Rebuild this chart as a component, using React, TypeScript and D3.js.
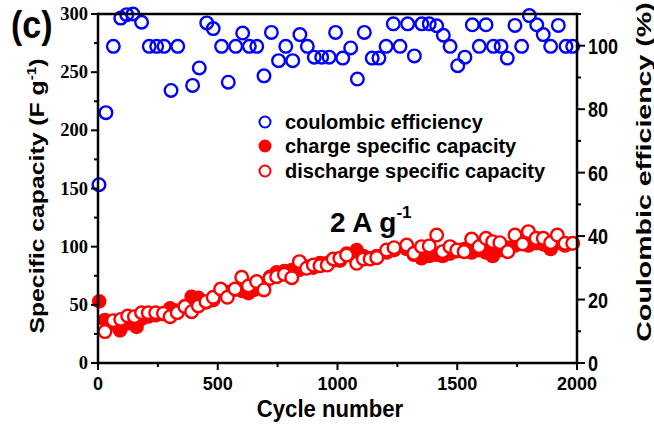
import React from "react";
import * as d3 from "d3";

const effCycles = [4, 33, 64, 95, 120, 146, 182, 214, 245, 276, 305, 333, 395, 423, 454, 481, 516, 544, 575, 604, 632, 663, 693, 724, 754, 784, 813, 843, 874, 903, 934, 965, 992, 1022, 1055, 1083, 1112, 1145, 1173, 1203, 1233, 1261, 1293, 1321, 1352, 1383, 1414, 1442, 1470, 1502, 1532, 1563, 1592, 1620, 1651, 1683, 1709, 1741, 1769, 1801, 1832, 1859, 1890, 1922, 1954, 1982];
const effValues = [56.2, 78.9, 99.8, 108.7, 109.8, 110, 107.4, 99.8, 99.8, 99.8, 85.9, 99.8, 87.5, 93, 107.2, 105.4, 99.8, 88.5, 99.8, 104, 99.8, 99.8, 90.5, 104.2, 95.3, 99.8, 95.3, 103.5, 99.8, 96.4, 96.4, 96.4, 104.2, 96.1, 99.3, 89.5, 104.2, 96.1, 96.1, 99.8, 106.9, 99.8, 106.9, 96.8, 106.9, 106.9, 106.3, 103.3, 99.8, 93.7, 96.4, 106.6, 99.8, 106.6, 99.8, 99.8, 96.1, 106.4, 99.8, 109.5, 106.6, 103.5, 99.8, 106.4, 99.8, 99.8];

const chargeCycles = [5, 29, 60, 92, 124, 161, 182, 210, 241, 273, 301, 331, 363, 391, 419, 451, 481, 512, 540, 572, 600, 628, 655, 693, 718, 746, 778, 809, 841, 871, 899, 927, 957, 982, 1010, 1038, 1080, 1108, 1136, 1164, 1205, 1236, 1289, 1319, 1351, 1383, 1414, 1439, 1470, 1498, 1529, 1560, 1591, 1620, 1648, 1678, 1711, 1741, 1773, 1797, 1829, 1859, 1890, 1918, 1950, 1982];
const chargeValues = [53, 37, 34, 28, 34, 31, 38, 40, 41, 42, 47, 45, 49, 57, 56, 52, 54, 60, 61, 63, 62, 60, 63, 68, 74, 78, 79, 80, 80, 83, 82, 86, 86, 88, 88, 94, 97, 92, 90, 92, 95, 97, 98, 93, 90, 92, 93, 92, 94, 96, 98, 95, 97, 95, 92, 97, 99, 101, 104, 101, 103, 102, 98, 103, 101, 103];

const dischargeCycles = [29, 64, 95, 124, 152, 182, 210, 241, 273, 301, 331, 363, 391, 419, 451, 481, 512, 540, 572, 600, 628, 662, 693, 718, 746, 778, 809, 841, 871, 899, 927, 957, 982, 1010, 1038, 1080, 1108, 1136, 1164, 1205, 1236, 1289, 1319, 1351, 1383, 1414, 1439, 1470, 1498, 1529, 1560, 1591, 1620, 1648, 1678, 1711, 1741, 1773, 1797, 1829, 1859, 1890, 1918, 1950, 1982];
const dischargeValues = [27, 36.4, 37.5, 40.4, 39.8, 43.2, 43.2, 43.2, 42.7, 39.8, 43.2, 48.4, 44.1, 49, 52.7, 56.5, 63.6, 56.5, 63.6, 73.7, 66.2, 70, 62.8, 72.8, 74.2, 76.2, 73.3, 87.1, 81.4, 84.2, 83.6, 84.2, 89.4, 90, 92.8, 85.7, 89.4, 89.4, 90.5, 97.1, 99.1, 101.4, 94.3, 100, 100.6, 110, 95.7, 100, 97.1, 95.7, 106.6, 100, 107.2, 104.3, 103.4, 95.7, 110, 102.3, 112.9, 107.2, 107.2, 103.4, 110, 102.9, 102.9];

const xTicks = [0, 500, 1000, 1500, 2000];
const xMinorTicks = [250, 750, 1250, 1750];
const leftTicks = [0, 50, 100, 150, 200, 250, 300];
const leftMinorTicks = [25, 75, 125, 175, 225, 275];
const rightTicks = [0, 20, 40, 60, 80, 100];
const rightMinorTicks = [10, 30, 50, 70, 90, 110];

const legendLabels = ["coulombic efficiency", "charge specific capacity", "discharge specific capacity"];

const SANS = "'Liberation Sans', Arial, sans-serif";
const SERIF = "'Liberation Serif', 'Times New Roman', serif";

export default function App() {
  const L = 98, R = 577, T = 14, B = 363;
  const x = d3.scaleLinear().domain([0, 2000]).range([L, R]);
  const yL = d3.scaleLinear().domain([0, 300]).range([B, T]);
  const yR = d3.scaleLinear().domain([0, 110]).range([B, T]);
  const r = 6.3;
  const sw = 2.4;

  return (
    <svg width={654} height={430} style={{ position: "absolute", left: 0, top: 0, background: "#fff" }}>
      <rect x={0} y={0} width={654} height={430} fill="#fff" />
      {chargeCycles.map((c, i) => (
        <circle key={"c" + i} cx={x(c)} cy={yL(chargeValues[i])} r={r + 1} fill="#ff0000" stroke="none" />
      ))}
      {dischargeCycles.map((c, i) => (
        <circle key={"d" + i} cx={x(c)} cy={yL(dischargeValues[i])} r={r} fill="#fff" stroke="#ff0000" strokeWidth={sw} />
      ))}
      {effCycles.map((c, i) => (
        <circle key={"e" + i} cx={x(c)} cy={yR(effValues[i])} r={r} fill="none" stroke="#0000ff" strokeWidth={sw} />
      ))}

      <g stroke="#000" strokeWidth={2.5} fill="none">
        <line x1={L} x2={R} y1={B} y2={B} />
        <line x1={L} x2={R} y1={T} y2={T} />
        <line x1={L} x2={L} y1={T - 1.2} y2={B + 1.2} />
        <line x1={R} x2={R} y1={T - 1.2} y2={B + 1.2} />
      </g>
      <g stroke="#000" strokeWidth={2}>
        {xTicks.map((t) => <line key={"xt" + t} x1={x(t)} x2={x(t)} y1={B} y2={B + 7} />)}
        {xMinorTicks.map((t) => <line key={"xm" + t} x1={x(t)} x2={x(t)} y1={B} y2={B + 4} />)}
        {leftTicks.map((t) => <line key={"lt" + t} x1={L - 7} x2={L} y1={yL(t)} y2={yL(t)} />)}
        {leftMinorTicks.map((t) => <line key={"lm" + t} x1={L - 4} x2={L} y1={yL(t)} y2={yL(t)} />)}
        {rightTicks.map((t) => <line key={"rt" + t} x1={R} x2={R + 8} y1={yR(t)} y2={yR(t)} />)}
        {rightMinorTicks.map((t) => <line key={"rm" + t} x1={R} x2={R + 4} y1={yR(t)} y2={yR(t)} />)}
      </g>

      <g fontFamily={SANS} fontWeight="bold" fontSize={18} fill="#000">
        {xTicks.map((t) => (
          <text key={"xl" + t} x={x(t)} y={390} textAnchor="middle">{t}</text>
        ))}
        {rightTicks.map((t) => (
          <text key={"rl" + t} transform={`translate(${R + 11},${yR(t) + 8}) scale(1,1.25)`} textAnchor="start">{t}</text>
        ))}
      </g>
      <g fontFamily={SERIF} fontWeight="bold" fontSize={18.5} fill="#000">
        {leftTicks.map((t) => (
          <text key={"ll" + t} x={88} y={yL(t) + 6} textAnchor="end">{t}</text>
        ))}
      </g>

      <text transform="translate(330,417) scale(1.03,1.12)" textAnchor="middle" fontFamily={SANS} fontWeight="bold" fontSize={21.5}>Cycle number</text>
      <text transform="translate(44,196) rotate(-90) scale(1.18,1)" textAnchor="middle" fontFamily={SANS} fontWeight="bold" fontSize={21}>
        Specific capacity (F g<tspan dy={-8} fontSize={13}>-1</tspan><tspan dy={8}>)</tspan>
      </text>
      <text transform="translate(651,172) rotate(-90) scale(1.36,1)" textAnchor="middle" fontFamily={SANS} fontWeight="bold" fontSize={21}>
        Coulombic efficiency (%)
      </text>

      <text transform="translate(11,38) scale(1,1.12)" fontFamily={SANS} fontWeight="bold" fontSize={34}>(c)</text>

      <text x={330} y={232} fontFamily={SANS} fontWeight="bold" fontSize={28}>
        2 A g<tspan dy={-14} fontSize={17}>-1</tspan>
      </text>

      <g fontFamily={SANS} fontWeight="bold" fontSize={20}>
        <circle cx={265} cy={122} r={5.5} fill="none" stroke="#0000ff" strokeWidth={2} />
        <circle cx={265} cy={146} r={6.5} fill="#ff0000" />
        <circle cx={265} cy={171} r={5.5} fill="#fff" stroke="#ff0000" strokeWidth={2} />
        <text x={285} y={129}>{legendLabels[0]}</text>
        <text x={285} y={153}>{legendLabels[1]}</text>
        <text x={285} y={178}>{legendLabels[2]}</text>
      </g>
    </svg>
  );
}
